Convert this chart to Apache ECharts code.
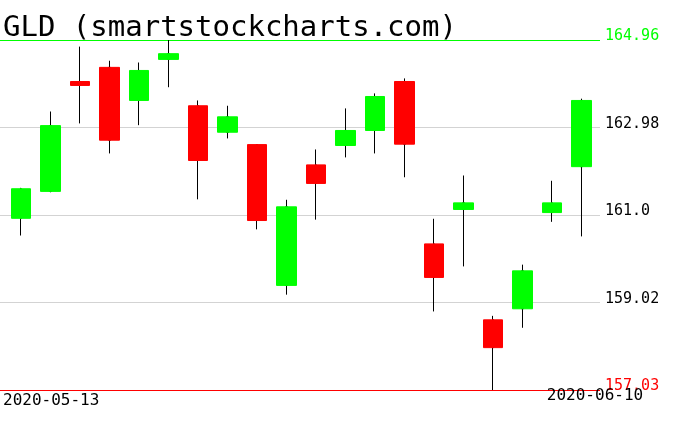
<!DOCTYPE html>
<html>
<head>
<meta charset="utf-8">
<script src="https://cdn.jsdelivr.net/npm/echarts@6/dist/echarts.min.js"></script>
<style>
html,body{margin:0;padding:0;background:#fff;}
#chart{width:676px;height:431px;}
</style>
</head>
<body>
<div id="chart"></div>
<script>
const titleText = 'GLD (smartstockcharts.com)';
const dates = ['2020-05-13','2020-05-14','2020-05-15','2020-05-18','2020-05-19','2020-05-20','2020-05-21','2020-05-22','2020-05-26','2020-05-27','2020-05-28','2020-05-29','2020-06-01','2020-06-02','2020-06-03','2020-06-04','2020-06-05','2020-06-08','2020-06-09','2020-06-10'];
const openV  = [160.92,161.53,164.02,164.34,163.59,164.52,163.47,162.87,162.59,159.40,162.13,162.57,162.91,164.02,160.34,161.12,158.62,158.87,161.05,162.09];
const closeV = [161.59,163.02,163.93,162.69,164.27,164.65,162.23,163.22,160.87,161.18,161.71,162.91,163.68,162.60,159.58,161.27,157.99,159.73,161.27,163.59];
const lowV   = [160.53,161.51,163.07,162.39,163.03,163.89,161.35,162.73,160.67,159.19,160.89,162.30,162.39,161.85,158.81,159.83,157.03,158.44,160.84,160.51];
const highV  = [161.61,163.34,164.81,164.49,164.45,164.96,163.59,163.47,162.60,161.34,162.48,163.41,163.75,164.09,160.91,161.89,158.71,159.87,161.77,163.63];
const yMin = 157.03;
const yMax = 164.96;
const tickLabels = ['157.03','159.02','161.0','162.98','164.96'];
const tickColors = ['#ff0000','#000000','#000000','#000000','#00ff00'];
const lineColors = ['#ff0000','#d3d3d3','#d3d3d3','#d3d3d3','#00ff00'];

const interval = (yMax - yMin) / (tickLabels.length - 1);
const tickIndex = v => Math.round((v - yMin) / interval);

const wickData = dates.map((d, i) => [openV[i], closeV[i], lowV[i], highV[i]]);
const bodyData = dates.map((d, i) => [openV[i], closeV[i], Math.min(openV[i], closeV[i]), Math.max(openV[i], closeV[i])]);

const MONO = 'DejaVu Sans Mono';
const chart = echarts.init(document.getElementById('chart'), null, {renderer: 'canvas'});
chart.setOption({
  animation: false,
  backgroundColor: '#ffffff',
  title: {
    text: titleText,
    left: 3, top: 0, padding: [14, 0, 0, 0],
    textStyle: {fontFamily: MONO, fontSize: 29, fontWeight: 'normal', color: '#000'}
  },
  grid: [
    {left: 0, width: 600, top: 40, height: 350, outerBoundsMode: 'none', containLabel: false},
    {left: 6, width: 590, top: 40, height: 350, outerBoundsMode: 'none', containLabel: false}
  ],
  xAxis: [
    {
      type: 'category', gridIndex: 0, data: dates, boundaryGap: false,
      axisLine: {show: false}, axisTick: {show: false}, splitLine: {show: false},
      axisLabel: {
        interval: (i) => i === 0 || i === dates.length - 1,
        alignMinLabel: 'left',
        margin: 0,
        fontFamily: MONO, fontSize: 16, color: '#000',
        formatter: (v, i) => i === 0 ? '{a|' + v + '}' : '{b|' + v + '}',
        rich: {
          a: {fontFamily: MONO, fontSize: 16, color: '#000', lineHeight: 22, padding: [0, 0, 0, 3]},
          b: {fontFamily: MONO, fontSize: 16, color: '#000', lineHeight: 12, padding: [0, 10, 0, 0]}
        }
      }
    },
    {
      type: 'category', gridIndex: 1, data: dates, boundaryGap: true, show: false
    }
  ],
  yAxis: [
    {
      type: 'value', gridIndex: 0, position: 'right', min: yMin, max: yMax, interval: interval,
      axisLine: {show: false}, axisTick: {show: false},
      splitLine: {show: true, showMinLine: true, showMaxLine: true, lineStyle: {color: lineColors, width: 1}},
      axisLabel: {
        margin: 5, fontFamily: MONO, fontSize: 15,
        verticalAlign: 'bottom', lineHeight: 7,
        formatter: (v) => tickLabels[tickIndex(v)],
        color: (v) => tickColors[tickIndex(v)]
      }
    },
    {
      type: 'value', gridIndex: 1, min: yMin, max: yMax, show: false,
      splitLine: {show: false}
    }
  ],
  series: [
    {
      type: 'candlestick', xAxisIndex: 1, yAxisIndex: 1, data: wickData, barWidth: 2,
      itemStyle: {color: '#000', color0: '#000', borderColor: '#000', borderColor0: '#000', borderWidth: 1},
      emphasis: {disabled: true}, silent: true
    },
    {
      type: 'candlestick', xAxisIndex: 1, yAxisIndex: 1, data: bodyData, barWidth: 20,
      itemStyle: {color: '#00ff00', color0: '#ff0000', borderColor: '#00ff00', borderColor0: '#ff0000', borderWidth: 1},
      emphasis: {disabled: true}, silent: true
    }
  ]
});
</script>
</body>
</html>
